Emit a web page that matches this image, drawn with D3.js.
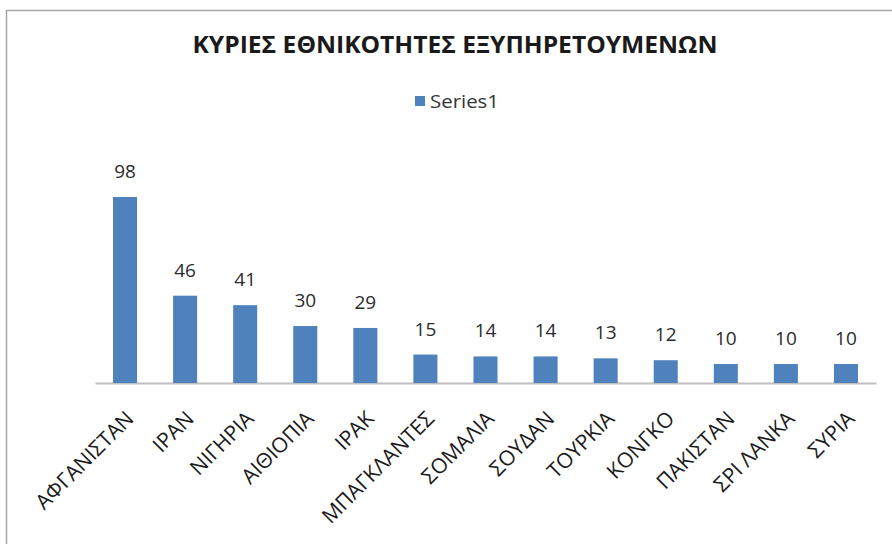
<!DOCTYPE html>
<html>
<head>
<meta charset="utf-8">
<script src="https://cdn.jsdelivr.net/npm/d3@7"></script>
<style>
  html, body { margin: 0; padding: 0; background: #fff; }
  svg { display: block; }
</style>
</head>
<body>
<svg id="chart" width="892" height="544"></svg>
<script>
const categories = ["ΑΦΓΑΝΙΣΤΑΝ", "ΙΡΑΝ", "ΝΙΓΗΡΙΑ", "ΑΙΘΙΟΠΙΑ", "ΙΡΑΚ", "ΜΠΑΓΚΛΑΝΤΕΣ", "ΣΟΜΑΛΙΑ", "ΣΟΥΔΑΝ", "ΤΟΥΡΚΙΑ", "ΚΟΝΓΚΟ", "ΠΑΚΙΣΤΑΝ", "ΣΡΙ ΛΑΝΚΑ", "ΣΥΡΙΑ"];
const values = [98, 46, 41, 30, 29, 15, 14, 14, 13, 12, 10, 10, 10];
const seriesName = "Series1";
const title = "ΚΥΡΙΕΣ ΕΘΝΙΚΟΤΗΤΕΣ ΕΞΥΠΗΡΕΤΟΥΜΕΝΩΝ";

const svg = d3.select("#chart");
const font = "'Open Sans', 'Noto Sans', sans-serif";
const barColor = "#4F81BD";

// frame
svg.append("path")
  .attr("d", "M6.5,544 L6.5,10.5 L892,10.5")
  .attr("fill", "none").attr("stroke", "#a6a6a6").attr("stroke-width", 1.5);

const x = d3.scaleBand().domain(categories).range([95, 876]).paddingInner(0.6).paddingOuter(0.3);
const y = d3.scaleLinear().domain([0, 100]).range([383, 193.2]);

// title
svg.append("text")
  .attr("x", 455).attr("y", 53)
  .attr("text-anchor", "middle")
  .attr("font-family", font).attr("font-weight", "bold").attr("font-size", 24)
  .attr("textLength", 525).attr("lengthAdjust", "spacingAndGlyphs")
  .attr("fill", "#1a1a1a")
  .text(title);

// legend
svg.append("rect").attr("x", 415).attr("y", 96).attr("width", 10).attr("height", 10).attr("fill", barColor);
svg.append("text").attr("x", 430).attr("y", 108)
  .attr("font-family", font).attr("font-size", 19).attr("fill", "#333")
  .attr("textLength", 69).attr("lengthAdjust", "spacingAndGlyphs")
  .text(seriesName);

// axis line
const xAxis = d3.axisBottom(x).tickSize(0).tickFormat("");
const gx = svg.append("g").attr("transform", "translate(0,383)").call(xAxis);
gx.select(".domain").attr("stroke", "#bfbfbf").attr("stroke-width", 2);

// bars
svg.append("g").selectAll("rect").data(values).join("rect")
  .attr("x", (d, i) => x(categories[i]))
  .attr("y", d => y(d))
  .attr("width", x.bandwidth())
  .attr("height", d => y(0) - y(d))
  .attr("fill", barColor);

// data labels
svg.append("g").selectAll("text").data(values).join("text")
  .attr("x", (d, i) => x(categories[i]) + x.bandwidth() / 2)
  .attr("y", d => y(d) - 19)
  .attr("text-anchor", "middle")
  .attr("font-family", font).attr("font-size", 19).attr("fill", "#2b2b2b")
  .text(d => d);

// category labels
svg.append("g").selectAll("text").data(categories).join("text")
  .attr("transform", d => `translate(${x(d) + x.bandwidth() / 2 + 10},420) rotate(-45)`)
  .attr("text-anchor", "end")
  .attr("font-family", font).attr("font-size", 21).attr("fill", "#1a1a1a")
  .text(d => d);
</script>
</body>
</html>
